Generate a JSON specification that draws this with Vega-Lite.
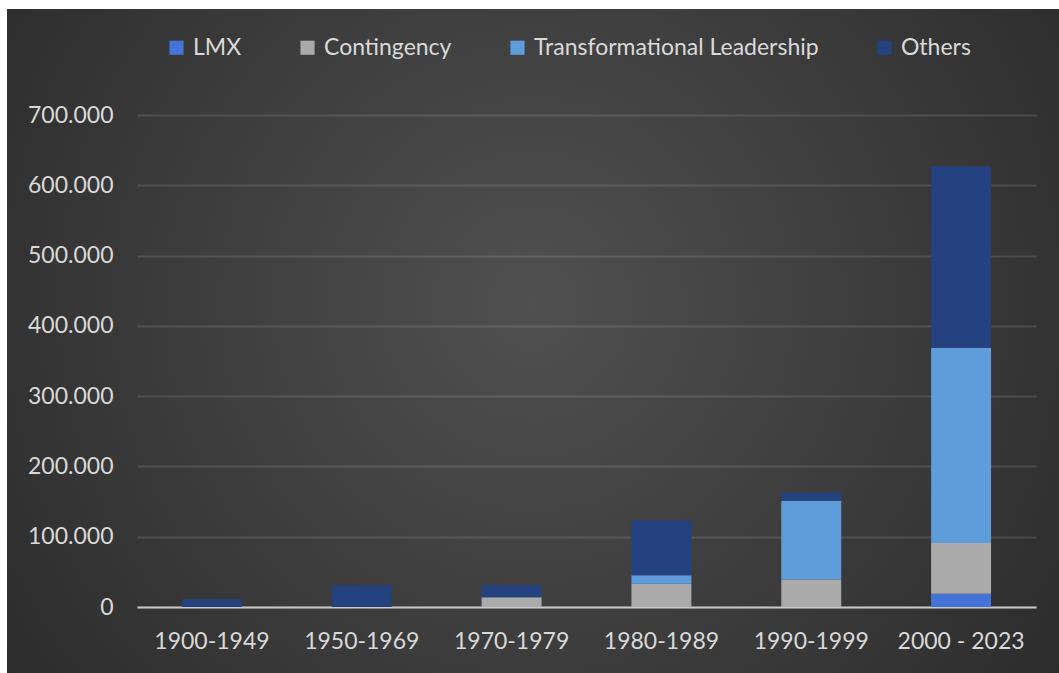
{
  "$schema": "https://vega.github.io/schema/vega-lite/v6.json",
  "autosize": {"type": "none"},
  "width": 1075,
  "height": 685,
  "padding": {"left": 7, "top": 9, "right": 0, "bottom": 0},
  "background": "#ffffff",
  "config": {
    "view": {
      "stroke": null,
      "fill": {
        "gradient": "radial", "x1": 0.489, "y1": 0.455, "x2": 0.489, "y2": 0.455, "r1": 0, "r2": 0.7,
        "stops": [{"offset": 0, "color": "#505050"}, {"offset": 1, "color": "#262626"}]
      }
    },
    "font": "Lato",
    "axis": {"labelFont": "Lato", "labelFontSize": 23, "labelColor": "#d9d9d9"},
    "legend": {"labelFont": "Lato", "labelFontSize": 23, "labelColor": "#d9d9d9"}
  },
  "data": {
    "values": [
      {"period": "1900-1949", "series": "Others", "value": 11000},
      {"period": "1950-1969", "series": "Others", "value": 31000},
      {"period": "1970-1979", "series": "Contingency", "value": 14000},
      {"period": "1970-1979", "series": "Others", "value": 17000},
      {"period": "1980-1989", "series": "Contingency", "value": 33000},
      {"period": "1980-1989", "series": "Transformational Leadership", "value": 12000},
      {"period": "1980-1989", "series": "Others", "value": 78000},
      {"period": "1990-1999", "series": "Contingency", "value": 39000},
      {"period": "1990-1999", "series": "Transformational Leadership", "value": 112000},
      {"period": "1990-1999", "series": "Others", "value": 12000},
      {"period": "2000 - 2023", "series": "LMX", "value": 19000},
      {"period": "2000 - 2023", "series": "Contingency", "value": 72000},
      {"period": "2000 - 2023", "series": "Transformational Leadership", "value": 278000},
      {"period": "2000 - 2023", "series": "Others", "value": 258000}
    ]
  },
  "transform": [
    {"calculate": "indexof(['LMX','Contingency','Transformational Leadership','Others'], datum.series)", "as": "ord"}
  ],
  "mark": {"type": "bar"},
  "encoding": {
    "x": {
      "field": "period", "type": "nominal", "sort": null, "title": null,
      "scale": {"range": [130, 1029], "paddingInner": 0.6, "paddingOuter": 0.3},
      "axis": {"labelAngle": 0, "ticks": false, "domainColor": "#c8c8c8", "domainWidth": 2, "labelPadding": 23, "offset": -87}
    },
    "y": {
      "field": "value", "type": "quantitative", "aggregate": "sum", "title": null,
      "scale": {"domain": [0, 700000], "range": [598, 106], "nice": false},
      "axis": {
        "values": [0, 100000, 200000, 300000, 400000, 500000, 600000, 700000],
        "labelExpr": "replace(format(datum.value, ','), ',', '.')",
        "domain": false, "ticks": false, "labelPadding": 24, "offset": -130,
        "gridColor": "#e0e0e0", "gridOpacity": 0.14, "gridWidth": 2
      }
    },
    "color": {
      "field": "series", "type": "nominal", "title": null,
      "scale": {
        "domain": ["LMX", "Contingency", "Transformational Leadership", "Others"],
        "range": ["#4474d8", "#aaaaaa", "#5e9dda", "#24427f"]
      },
      "legend": {
        "orient": "none", "direction": "horizontal", "legendX": 158, "legendY": 27,
        "symbolType": "square", "symbolSize": 200, "symbolStrokeWidth": 0,
        "columnPadding": 54, "labelOffset": 5, "labelLimit": 0
      }
    },
    "order": {"field": "ord", "type": "quantitative", "sort": "ascending"}
  }
}
